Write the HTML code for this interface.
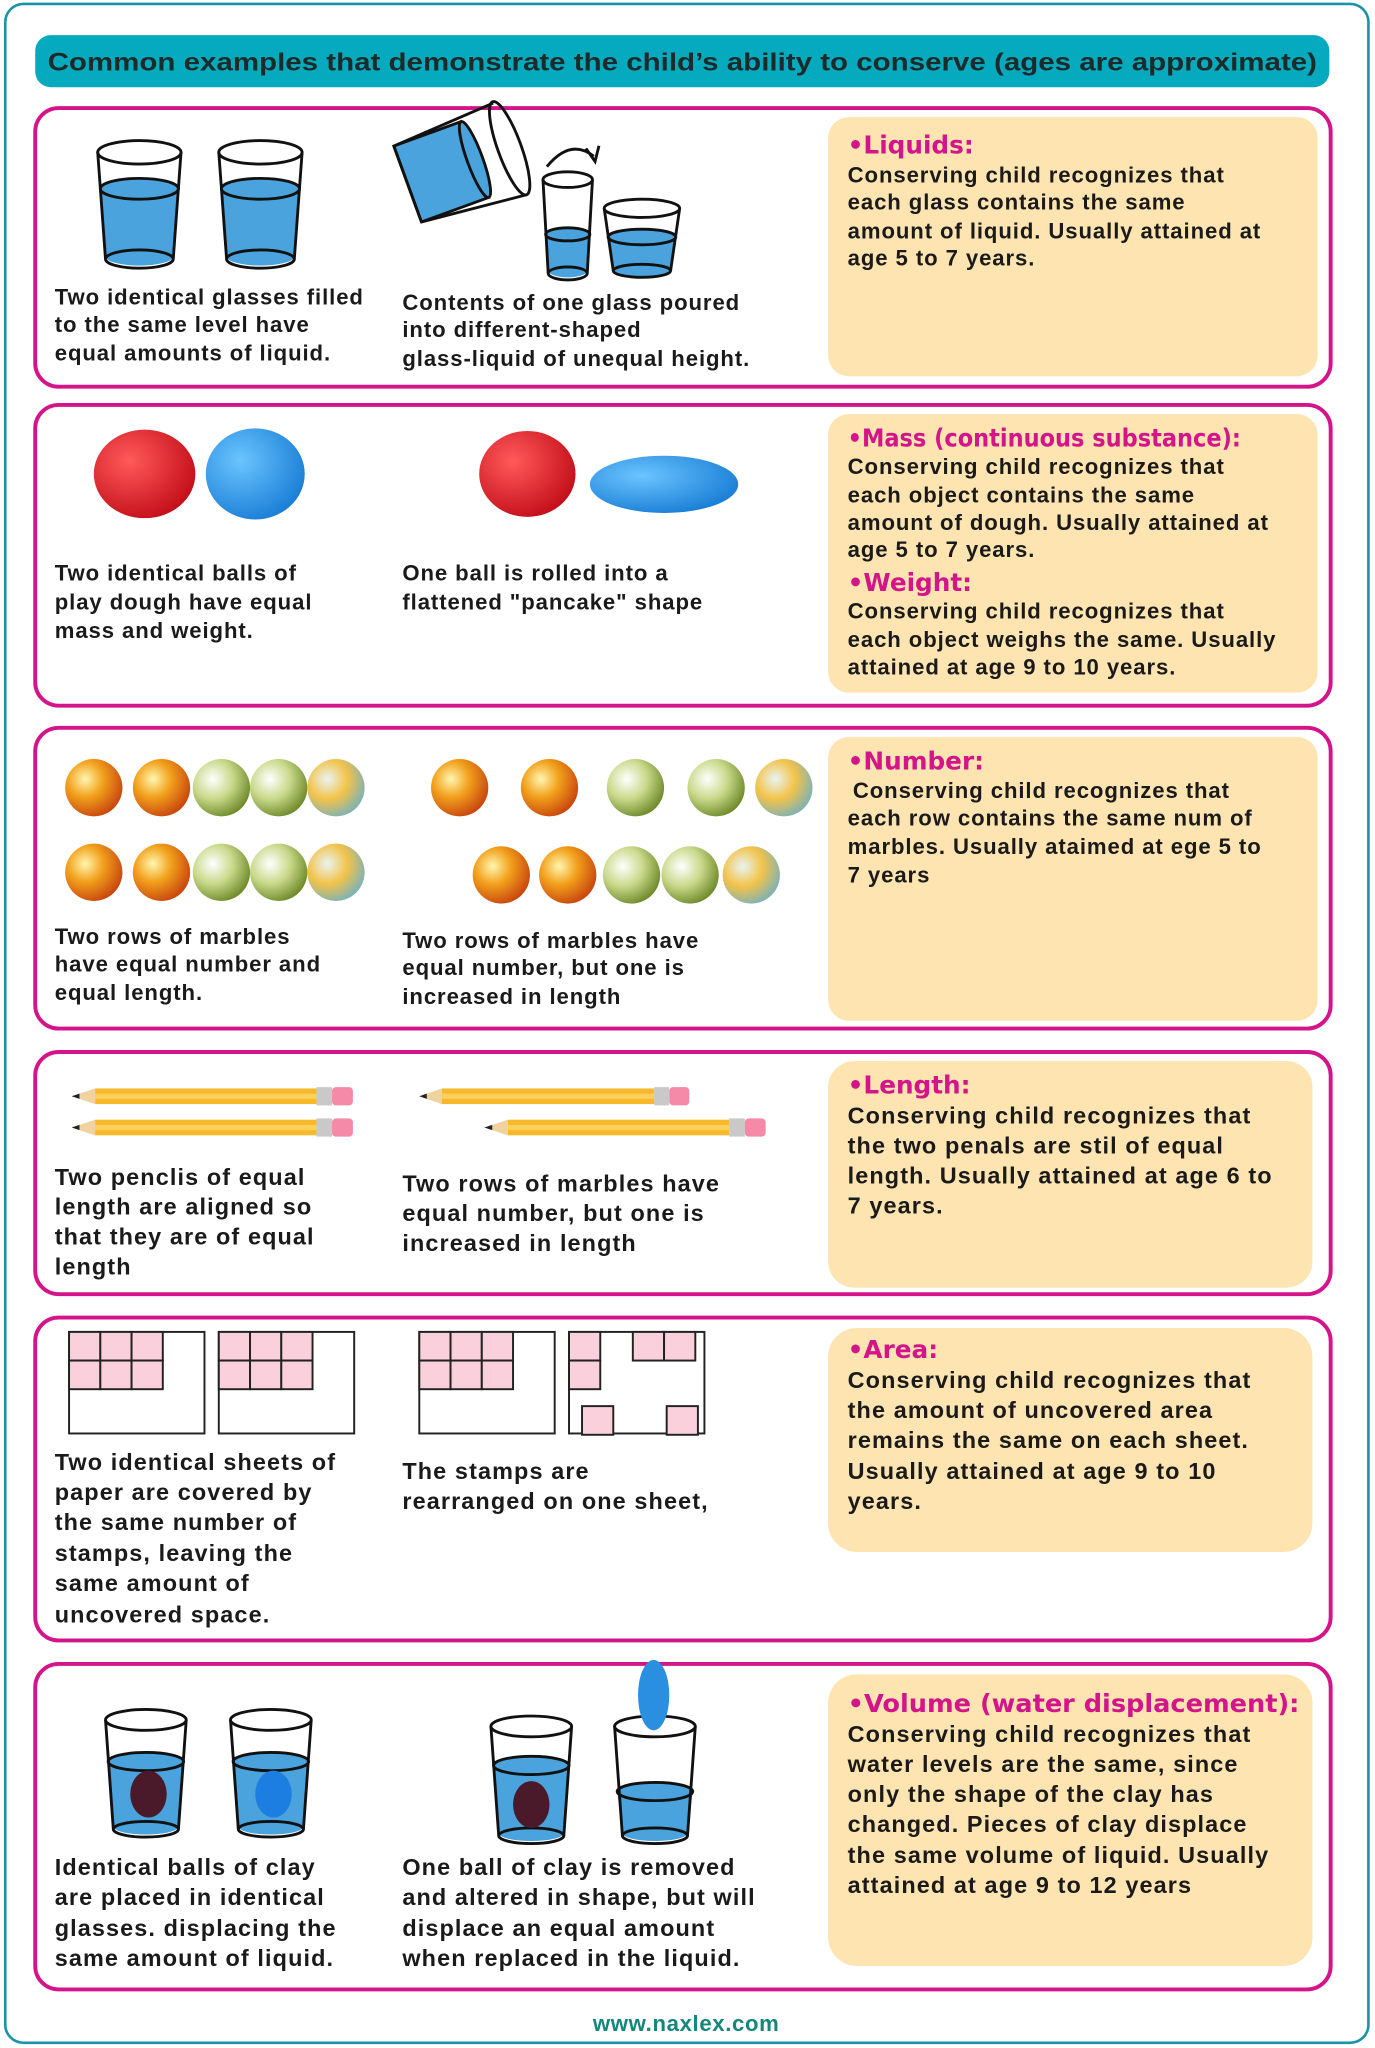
<!DOCTYPE html>
<html><head><meta charset="utf-8"><style>
html,body{margin:0;padding:0;background:#fff;}
svg{display:block;}
.t{font-family:"Liberation Sans",sans-serif;font-weight:bold;font-size:17px;fill:#1a1a1a;letter-spacing:0.7px;}
.h{font-family:"DejaVu Sans",sans-serif;font-weight:bold;font-size:19px;fill:#d4148a;}
</style></head><body>
<svg width="1375" height="2048" viewBox="0 0 1056 1573" xmlns="http://www.w3.org/2000/svg">
<defs>
<radialGradient id="mo" cx="0.35" cy="0.35" r="0.7"><stop offset="0" stop-color="#fff6b0"/><stop offset="0.45" stop-color="#f2a11c"/><stop offset="1" stop-color="#c8460e"/></radialGradient>
<radialGradient id="mg" cx="0.35" cy="0.35" r="0.7"><stop offset="0" stop-color="#ffffff"/><stop offset="0.5" stop-color="#c9d98a"/><stop offset="1" stop-color="#6f8a2a"/></radialGradient>
<radialGradient id="my" cx="0.35" cy="0.35" r="0.7"><stop offset="0" stop-color="#e8f4f4"/><stop offset="0.5" stop-color="#f3c34a"/><stop offset="1" stop-color="#7fb2b4"/></radialGradient>
<radialGradient id="rb" cx="0.35" cy="0.35" r="0.7"><stop offset="0" stop-color="#ff5a5a"/><stop offset="1" stop-color="#c40f1a"/></radialGradient>
<radialGradient id="bb" cx="0.35" cy="0.35" r="0.7"><stop offset="0" stop-color="#6cc4ff"/><stop offset="1" stop-color="#1a7fd6"/></radialGradient>
<g id="pen"><polygon points="0,6 18,0 18,12" fill="#f0d2a0"/><polygon points="0,6 6,4 6,8" fill="#222"/><rect x="18" y="0" width="170" height="12" fill="#f7b92b"/><rect x="18" y="4" width="170" height="4" fill="#fbd15c"/><rect x="188" y="-1" width="12" height="14" fill="#c9c9c9"/><rect x="200" y="-1" width="16" height="14" rx="3" fill="#f48aa8"/></g>
</defs>
<rect x="0" y="0" width="1056" height="1573" fill="#fff"/>
<rect x="4" y="3" width="1047" height="1566" rx="14" fill="none" stroke="#1a93a6" stroke-width="2"/>
<rect x="27" y="27" width="994" height="40" rx="12" fill="#05aabe"/>
<text x="524" y="54" text-anchor="middle" class="t" style="font-size:19.5px;fill:#1d2a2a;letter-spacing:0" textLength="975" lengthAdjust="spacingAndGlyphs">Common examples that demonstrate the child’s ability to conserve (ages are approximate)</text>

<g fill="none" stroke="#d4148a" stroke-width="3">
<rect x="27" y="83" width="995" height="214" rx="18"/>
<rect x="27" y="311" width="995" height="231" rx="18"/>
<rect x="27" y="559" width="995" height="231" rx="18"/>
<rect x="27" y="808" width="995" height="186" rx="18"/>
<rect x="27" y="1012" width="995" height="248" rx="18"/>
<rect x="27" y="1278" width="995" height="250" rx="18"/>
</g>
<g fill="#fde4b0">
<rect x="636" y="90" width="376" height="199" rx="16"/>
<rect x="636" y="318" width="376" height="214" rx="16"/>
<rect x="636" y="566" width="376" height="218" rx="16"/>
<rect x="636" y="815" width="372" height="174" rx="20"/>
<rect x="636" y="1020" width="372" height="172" rx="22"/>
<rect x="636" y="1286" width="372" height="224" rx="22"/>
</g>

<g stroke="#111" stroke-width="2.2">
<g transform="translate(107,117)"><path d="M-30,28 L-26,80 A26,7 0 0 0 26,80 L30,28 Z" fill="#4aa3dc" stroke="none"/><ellipse cx="0" cy="28" rx="30" ry="8" fill="#4aa3dc"/><path d="M-32,0 L-26,82 M32,0 L26,82" fill="none"/><ellipse cx="0" cy="0" rx="32" ry="9" fill="none"/><ellipse cx="0" cy="82" rx="26" ry="7" fill="none"/></g>
<g transform="translate(200,117)"><path d="M-30,28 L-26,80 A26,7 0 0 0 26,80 L30,28 Z" fill="#4aa3dc" stroke="none"/><ellipse cx="0" cy="28" rx="30" ry="8" fill="#4aa3dc"/><path d="M-32,0 L-26,82 M32,0 L26,82" fill="none"/><ellipse cx="0" cy="0" rx="32" ry="9" fill="none"/><ellipse cx="0" cy="82" rx="26" ry="7" fill="none"/></g>
<g transform="translate(355,125) rotate(-20)"><rect x="-45" y="-30" width="55" height="62" fill="#4aa3dc"/><path d="M-45,-30 L38,-35 M-45,32 L38,40" fill="none"/><ellipse cx="38" cy="2" rx="9" ry="38" fill="none"/><ellipse cx="10" cy="1" rx="6" ry="31" fill="#4aa3dc"/><path d="M-45,-30 L-45,32" fill="none"/></g>
<g transform="translate(436,138)"><path d="M-17,42 L-15,70 A15,5 0 0 0 15,70 L17,42 Z" fill="#4aa3dc" stroke="none"/><ellipse cx="0" cy="42" rx="17" ry="5" fill="#4aa3dc"/><path d="M-19,0 L-15,72 M19,0 L15,72" fill="none"/><ellipse cx="0" cy="0" rx="19" ry="6" fill="none"/><ellipse cx="0" cy="72" rx="15" ry="5" fill="none"/></g>
<g transform="translate(493,160)"><path d="M-26,22 L-22,47 A22,6 0 0 0 22,47 L26,22 Z" fill="#4aa3dc" stroke="none"/><ellipse cx="0" cy="22" rx="26" ry="6" fill="#4aa3dc"/><path d="M-29,0 L-22,48 M29,0 L22,48" fill="none"/><ellipse cx="0" cy="0" rx="29" ry="7" fill="none"/><ellipse cx="0" cy="48" rx="22" ry="5" fill="none"/></g>
<path d="M420,128 Q438,106 456,120" fill="none"/><path d="M450,114 L457,124 L460,112" fill="none"/>
</g>

<ellipse cx="111" cy="364" rx="39" ry="34" fill="url(#rb)"/>
<ellipse cx="196" cy="364" rx="38" ry="35" fill="url(#bb)"/>
<ellipse cx="405" cy="364" rx="37" ry="33" fill="url(#rb)"/>
<ellipse cx="510" cy="372" rx="57" ry="22" fill="url(#bb)"/>

<g>
<circle cx="72" cy="605" r="22" fill="url(#mo)"/><circle cx="124" cy="605" r="22" fill="url(#mo)"/><circle cx="170" cy="605" r="22" fill="url(#mg)"/><circle cx="214" cy="605" r="22" fill="url(#mg)"/><circle cx="258" cy="605" r="22" fill="url(#my)"/>
<circle cx="72" cy="670" r="22" fill="url(#mo)"/><circle cx="124" cy="670" r="22" fill="url(#mo)"/><circle cx="170" cy="670" r="22" fill="url(#mg)"/><circle cx="214" cy="670" r="22" fill="url(#mg)"/><circle cx="258" cy="670" r="22" fill="url(#my)"/>
<circle cx="353" cy="605" r="22" fill="url(#mo)"/><circle cx="422" cy="605" r="22" fill="url(#mo)"/><circle cx="488" cy="605" r="22" fill="url(#mg)"/><circle cx="550" cy="605" r="22" fill="url(#mg)"/><circle cx="602" cy="605" r="22" fill="url(#my)"/>
<circle cx="385" cy="672" r="22" fill="url(#mo)"/><circle cx="436" cy="672" r="22" fill="url(#mo)"/><circle cx="485" cy="672" r="22" fill="url(#mg)"/><circle cx="530" cy="672" r="22" fill="url(#mg)"/><circle cx="577" cy="672" r="22" fill="url(#my)"/>
</g>

<use href="#pen" transform="translate(55,836)"/>
<use href="#pen" transform="translate(55,860)"/>
<use href="#pen" transform="translate(322,836) scale(0.96,1)"/>
<use href="#pen" transform="translate(372,860)"/>

<g stroke="#222" stroke-width="1.5">
<rect x="53" y="1023" width="104" height="78" fill="#fff"/>
<rect x="168" y="1023" width="104" height="78" fill="#fff"/>
<rect x="322" y="1023" width="104" height="78" fill="#fff"/>
<rect x="437" y="1023" width="104" height="78" fill="#fff"/>
<g fill="#f9d0dc">
<rect x="53" y="1023" width="24" height="22"/><rect x="77" y="1023" width="24" height="22"/><rect x="101" y="1023" width="24" height="22"/><rect x="53" y="1045" width="24" height="22"/><rect x="77" y="1045" width="24" height="22"/><rect x="101" y="1045" width="24" height="22"/>
<rect x="168" y="1023" width="24" height="22"/><rect x="192" y="1023" width="24" height="22"/><rect x="216" y="1023" width="24" height="22"/><rect x="168" y="1045" width="24" height="22"/><rect x="192" y="1045" width="24" height="22"/><rect x="216" y="1045" width="24" height="22"/>
<rect x="322" y="1023" width="24" height="22"/><rect x="346" y="1023" width="24" height="22"/><rect x="370" y="1023" width="24" height="22"/><rect x="322" y="1045" width="24" height="22"/><rect x="346" y="1045" width="24" height="22"/><rect x="370" y="1045" width="24" height="22"/>
<rect x="437" y="1023" width="24" height="22"/><rect x="437" y="1045" width="24" height="22"/><rect x="486" y="1023" width="24" height="22"/><rect x="510" y="1023" width="24" height="22"/><rect x="447" y="1080" width="24" height="22"/><rect x="512" y="1080" width="24" height="22"/>
</g></g>

<g stroke="#111" stroke-width="2.2">
<g transform="translate(112,1321)"><path d="M-29,32 L-25,82 A25,6 0 0 0 25,82 L29,32 Z" fill="#4aa3dc" stroke="none"/><ellipse cx="0" cy="32" rx="29" ry="7" fill="#4aa3dc"/><path d="M-31,0 L-25,84 M31,0 L25,84" fill="none"/><ellipse cx="0" cy="0" rx="31" ry="8" fill="none"/><ellipse cx="0" cy="84" rx="25" ry="6" fill="none"/><ellipse cx="2" cy="57" rx="14" ry="18" fill="#4a1a2a" stroke="none"/></g>
<g transform="translate(208,1321)"><path d="M-29,32 L-25,82 A25,6 0 0 0 25,82 L29,32 Z" fill="#4aa3dc" stroke="none"/><ellipse cx="0" cy="32" rx="29" ry="7" fill="#4aa3dc"/><path d="M-31,0 L-25,84 M31,0 L25,84" fill="none"/><ellipse cx="0" cy="0" rx="31" ry="8" fill="none"/><ellipse cx="0" cy="84" rx="25" ry="6" fill="none"/><ellipse cx="2" cy="57" rx="14" ry="18" fill="#1b7ee0" stroke="none"/></g>
<g transform="translate(408,1326)"><path d="M-29,30 L-25,82 A25,6 0 0 0 25,82 L29,30 Z" fill="#4aa3dc" stroke="none"/><ellipse cx="0" cy="30" rx="29" ry="7" fill="#4aa3dc"/><path d="M-31,0 L-25,84 M31,0 L25,84" fill="none"/><ellipse cx="0" cy="0" rx="31" ry="8" fill="none"/><ellipse cx="0" cy="84" rx="25" ry="6" fill="none"/><ellipse cx="0" cy="60" rx="14" ry="18" fill="#4a1a2a" stroke="none"/></g>
<g transform="translate(503,1326)"><path d="M-29,50 L-25,82 A25,6 0 0 0 25,82 L29,50 Z" fill="#4aa3dc" stroke="none"/><ellipse cx="0" cy="50" rx="29" ry="7" fill="#4aa3dc"/><path d="M-31,0 L-25,84 M31,0 L25,84" fill="none"/><ellipse cx="0" cy="0" rx="31" ry="8" fill="none"/><ellipse cx="0" cy="84" rx="25" ry="6" fill="none"/></g>
</g>
<ellipse cx="502" cy="1302" rx="12" ry="27" fill="#2a8fe0"/>

<g class="t">
<text x="42" y="234">Two identical glasses filled</text><text x="42" y="255">to the same level have</text><text x="42" y="277">equal amounts of liquid.</text>
<text x="309" y="238">Contents of one glass poured</text><text x="309" y="259">into different-shaped</text><text x="309" y="281">glass-liquid of unequal height.</text>
<text x="651" y="140">Conserving child recognizes that</text><text x="651" y="161">each glass contains the same</text><text x="651" y="183">amount of liquid. Usually attained at</text><text x="651" y="204">age 5 to 7 years.</text>

<text x="42" y="446">Two identical balls of</text><text x="42" y="468">play dough have equal</text><text x="42" y="490">mass and weight.</text>
<text x="309" y="446">One ball is rolled into a</text><text x="309" y="468">flattened "pancake" shape</text>
<text x="651" y="364">Conserving child recognizes that</text><text x="651" y="386">each object contains the same</text><text x="651" y="407">amount of dough. Usually attained at</text><text x="651" y="428">age 5 to 7 years.</text>
<text x="651" y="475">Conserving child recognizes that</text><text x="651" y="497">each object weighs the same. Usually</text><text x="651" y="518">attained at age 9 to 10 years.</text>

<text x="42" y="725">Two rows of marbles</text><text x="42" y="746">have equal number and</text><text x="42" y="768">equal length.</text>
<text x="309" y="728">Two rows of marbles have</text><text x="309" y="749">equal number, but one is</text><text x="309" y="771">increased in length</text>
<text x="655" y="613">Conserving child recognizes that</text><text x="651" y="634">each row contains the same num of</text><text x="651" y="656">marbles. Usually ataimed at ege 5 to</text><text x="651" y="678">7 years</text>

<g style="font-size:18px;letter-spacing:0.85px">
<text x="42" y="910">Two penclis of equal</text><text x="42" y="933">length are aligned so</text><text x="42" y="956">that they are of equal</text><text x="42" y="979">length</text>
<text x="309" y="915">Two rows of marbles have</text><text x="309" y="938">equal number, but one is</text><text x="309" y="961">increased in length</text>
<text x="651" y="863">Conserving child recognizes that</text><text x="651" y="886">the two penals are stil of equal</text><text x="651" y="909">length. Usually attained at age 6 to</text><text x="651" y="932">7 years.</text>

<text x="42" y="1129">Two identical sheets of</text><text x="42" y="1152">paper are covered by</text><text x="42" y="1175">the same number of</text><text x="42" y="1199">stamps, leaving the</text><text x="42" y="1222">same amount of</text><text x="42" y="1246">uncovered space.</text>
<text x="309" y="1136">The stamps are</text><text x="309" y="1159">rearranged on one sheet,</text>
<text x="651" y="1066">Conserving child recognizes that</text><text x="651" y="1089">the amount of uncovered area</text><text x="651" y="1112">remains the same on each sheet.</text><text x="651" y="1136">Usually attained at age 9 to 10</text><text x="651" y="1159">years.</text>

<text x="42" y="1440">Identical balls of clay</text><text x="42" y="1463">are placed in identical</text><text x="42" y="1487">glasses. displacing the</text><text x="42" y="1510">same amount of liquid.</text>
<text x="309" y="1440">One ball of clay is removed</text><text x="309" y="1463">and altered in shape, but will</text><text x="309" y="1487">displace an equal amount</text><text x="309" y="1510">when replaced in the liquid.</text>
<text x="651" y="1338">Conserving child recognizes that</text><text x="651" y="1361">water levels are the same, since</text><text x="651" y="1384">only the shape of the clay has</text><text x="651" y="1407">changed. Pieces of clay displace</text><text x="651" y="1431">the same volume of liquid. Usually</text><text x="651" y="1454">attained at age 9 to 12 years</text>
</g>
</g>
<g class="h">
<text x="651" y="118">•Liquids:</text>
<text x="651" y="343" textLength="302" lengthAdjust="spacingAndGlyphs">•Mass (continuous substance):</text>
<text x="651" y="454">•Weight:</text>
<text x="651" y="591">•Number:</text>
<text x="651" y="840">•Length:</text>
<text x="651" y="1043">•Area:</text>
<text x="651" y="1315" textLength="347" lengthAdjust="spacingAndGlyphs">•Volume (water displacement):</text>
</g>
<text x="527" y="1560" text-anchor="middle" class="t" style="fill:#12877a;font-size:17px;letter-spacing:0.5px">www.naxlex.com</text>
</svg>
</body></html>
